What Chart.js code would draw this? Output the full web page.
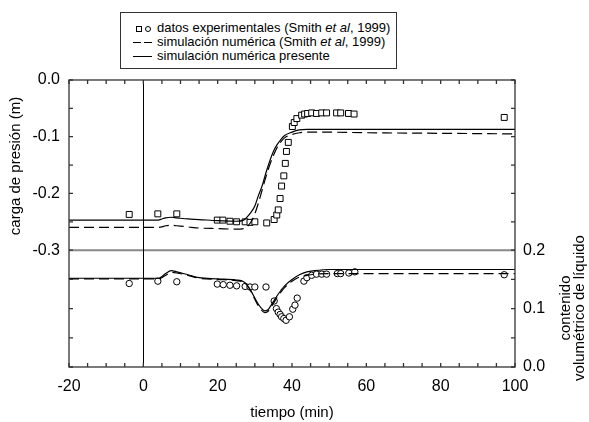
<!DOCTYPE html>
<html>
<head>
<meta charset="utf-8">
<script src="https://cdn.jsdelivr.net/npm/chart.js@4"></script>
<style>
  body { margin: 0; background: #fff; }
  #caja { position: relative; width: 589px; height: 422px; }
  #leyenda {
    position: absolute; left: 120px; top: 12px; width: 275px; height: 55px;
    border: 1px solid #333; background: #fff;
    font: 13px "Liberation Sans", Arial, sans-serif; color: #000;
  }
  #leyenda .fila { position: absolute; left: 36px; line-height: 14px; white-space: nowrap; }
  #leyenda .sim { position: absolute; }
</style>
</head>
<body>
<div id="caja">
  <canvas id="grafico" width="589" height="422"></canvas>
  <div id="leyenda">
    <span class="sim" style="left:15px;top:13px;width:4px;height:4px;border:1px solid #000;"></span>
    <span class="sim" style="left:24px;top:13px;width:4px;height:4px;border:1px solid #000;border-radius:50%;"></span>
    <div class="fila" style="top:8px;">datos experimentales (Smith <i>et al</i>, 1999)</div>
    <span class="sim" style="left:12px;top:29px;width:8px;border-top:1px solid #000;"></span>
    <span class="sim" style="left:23px;top:29px;width:8px;border-top:1px solid #000;"></span>
    <div class="fila" style="top:22px;">simulación numérica (Smith <i>et al</i>, 1999)</div>
    <span class="sim" style="left:12px;top:43px;width:19px;border-top:1px solid #000;"></span>
    <div class="fila" style="top:36px;">simulación numérica presente</div>
  </div>
</div>
<script>
// tiempo (min) de las curvas simuladas
var tCurva = [-20, 0, 4, 5, 6, 7.5, 9, 12, 15, 20, 25, 27, 28, 29, 30, 31, 32, 32.7, 33.5, 34, 35, 36, 37, 38, 40, 42, 44, 46, 50, 60, 80, 100];
// carga de presión (m)
var presionPresente = [-0.247, -0.247, -0.247, -0.245, -0.243, -0.242, -0.243, -0.245, -0.246, -0.248, -0.249, -0.247, -0.241, -0.233, -0.222, -0.203, -0.186, -0.170, -0.153, -0.143, -0.126, -0.114, -0.105, -0.098, -0.092, -0.088, -0.087, -0.087, -0.087, -0.087, -0.087, -0.087];
var presionSmith = [-0.260, -0.260, -0.260, -0.259, -0.257, -0.256, -0.257, -0.259, -0.261, -0.262, -0.263, -0.262, -0.258, -0.250, -0.236, -0.216, -0.193, -0.177, -0.160, -0.150, -0.133, -0.119, -0.109, -0.102, -0.096, -0.093, -0.092, -0.092, -0.092, -0.093, -0.094, -0.095];
// contenido volumétrico de líquido
var humedadPresente = [0.152, 0.152, 0.152, 0.155, 0.160, 0.165, 0.163, 0.158, 0.153, 0.151, 0.149, 0.146, 0.140, 0.130, 0.118, 0.107, 0.099, 0.096, 0.098, 0.102, 0.112, 0.122, 0.131, 0.139, 0.150, 0.158, 0.163, 0.165, 0.167, 0.167, 0.167, 0.167];
var humedadSmith = [0.151, 0.151, 0.151, 0.153, 0.157, 0.162, 0.161, 0.157, 0.152, 0.150, 0.148, 0.145, 0.139, 0.129, 0.116, 0.104, 0.096, 0.093, 0.095, 0.099, 0.109, 0.119, 0.128, 0.136, 0.147, 0.154, 0.157, 0.159, 0.160, 0.160, 0.160, 0.160];

// datos experimentales: carga de presión (cuadrados)
var tCuadrados = [-3.8, 3.9, 9.0, 19.9, 21.4, 23.3, 25.1, 27.4, 28.7, 30.0, 33.2, 35.2, 35.9, 36.3, 36.8, 37.2, 37.8, 38.2, 38.5, 39.0, 40.1, 40.6, 41.3, 42.6, 43.4, 44.2, 45.3, 46.6, 48.0, 49.3, 52.0, 53.1, 55.2, 56.7, 97.1];
var presionExp = [-0.237, -0.236, -0.236, -0.247, -0.247, -0.249, -0.250, -0.250, -0.251, -0.250, -0.252, -0.246, -0.238, -0.229, -0.209, -0.187, -0.169, -0.147, -0.126, -0.110, -0.082, -0.075, -0.068, -0.062, -0.060, -0.059, -0.058, -0.059, -0.058, -0.058, -0.058, -0.058, -0.059, -0.060, -0.066];
// datos experimentales: contenido de líquido (círculos)
var tCirculos = [-3.8, 3.9, 9.0, 19.9, 21.5, 23.3, 25.1, 27.4, 28.7, 30.0, 33.0, 35.2, 35.8, 36.3, 36.8, 37.2, 37.8, 38.4, 39.3, 40.2, 40.8, 41.4, 43.2, 44.0, 45.3, 46.6, 48.0, 49.3, 52.2, 53.1, 55.3, 56.9, 97.1];
var humedadExp = [0.143, 0.147, 0.146, 0.142, 0.141, 0.140, 0.139, 0.138, 0.137, 0.137, 0.137, 0.113, 0.100, 0.094, 0.090, 0.086, 0.083, 0.080, 0.086, 0.099, 0.106, 0.118, 0.147, 0.153, 0.157, 0.159, 0.159, 0.159, 0.160, 0.160, 0.161, 0.163, 0.158];

var ticksPresion = [0, -0.1, -0.2, -0.3];
var ticksHumedad = [0, 0.1, 0.2];
var fuente = '"Liberation Sans", Arial, sans-serif';

function pares(xs, ys) {
    return xs.map(function (x, i) { return { x: x, y: ys[i] }; });
}

function linea(datos, eje, guiones) {
    return {
        type: 'line', data: datos, yAxisID: eje,
        borderColor: '#000', borderWidth: 1.2, borderDash: guiones,
        pointRadius: 0, fill: false, cubicInterpolationMode: 'monotone'
    };
}

function puntos(datos, eje, estilo, radio) {
    return {
        type: 'scatter', data: datos, yAxisID: eje,
        pointStyle: estilo, pointRadius: radio, pointBorderWidth: 1,
        borderColor: '#000', backgroundColor: '#fff', showLine: false
    };
}

// marco, marcas interiores, líneas de referencia y títulos de ejes
var marco = {
    id: 'marco',
    beforeDatasetsDraw: function (chart) {
        var c = chart.ctx, a = chart.chartArea;
        var sx = chart.scales.x, sy = chart.scales.y;
        c.save();
        c.strokeStyle = '#888';
        c.lineWidth = 2;
        var y3 = sy.getPixelForValue(-0.3);
        c.beginPath(); c.moveTo(a.left, y3); c.lineTo(a.right, y3); c.stroke();
        c.strokeStyle = '#000';
        c.lineWidth = 1;
        var x0 = Math.round(sx.getPixelForValue(0)) + 0.5;
        c.beginPath(); c.moveTo(x0, a.top); c.lineTo(x0, a.bottom); c.stroke();
        c.restore();
    },
    afterDatasetsDraw: function (chart) {
        var c = chart.ctx, a = chart.chartArea;
        var sx = chart.scales.x, sy = chart.scales.y, sy1 = chart.scales.y1;
        var L = 4, v, p;
        c.save();
        c.strokeStyle = '#333';
        c.lineWidth = 1.3;
        c.strokeRect(a.left, a.top, a.right - a.left, a.bottom - a.top);
        c.beginPath();
        for (v = -20; v <= 100; v += 5) {
            p = sx.getPixelForValue(v);
            c.moveTo(p, a.bottom); c.lineTo(p, a.bottom - L);
            c.moveTo(p, a.top); c.lineTo(p, a.top + L);
        }
        for (v = 0; v >= -0.3001; v -= 0.05) {
            p = sy.getPixelForValue(v);
            c.moveTo(a.left, p); c.lineTo(a.left + L, p);
            c.moveTo(a.right, p); c.lineTo(a.right - L, p);
        }
        for (v = 0; v <= 0.2001; v += 0.05) {
            p = sy1.getPixelForValue(v);
            c.moveTo(a.left, p); c.lineTo(a.left + L, p);
            c.moveTo(a.right, p); c.lineTo(a.right - L, p);
        }
        c.stroke();

        c.fillStyle = '#000';
        c.font = '15px ' + fuente;
        c.textAlign = 'center';
        c.textBaseline = 'middle';
        c.fillText('tiempo (min)', (a.left + a.right) / 2, 413);
        c.save();
        c.translate(16, 166);
        c.rotate(-Math.PI / 2);
        c.fillText('carga de presión (m)', 0, 0);
        c.restore();
        c.save();
        c.translate(566, 308);
        c.rotate(-Math.PI / 2);
        c.fillText('contenido', 0, 0);
        c.fillText('volumétrico de líquido', 0, 14);
        c.restore();
        c.restore();
    }
};

var ctx = document.getElementById('grafico').getContext('2d');

new Chart(ctx, {
    data: {
        datasets: [
            linea(pares(tCurva, presionSmith), 'y', [10, 5]),
            linea(pares(tCurva, presionPresente), 'y', []),
            linea(pares(tCurva, humedadSmith), 'y1', [10, 5]),
            linea(pares(tCurva, humedadPresente), 'y1', []),
            puntos(pares(tCuadrados, presionExp), 'y', 'rect', 4.2),
            puntos(pares(tCirculos, humedadExp), 'y1', 'circle', 3.2)
        ]
    },
    options: {
        responsive: false,
        animation: false,
        layout: { padding: { top: 80 } },
        plugins: { legend: { display: false }, tooltip: { enabled: false } },
        scales: {
            x: {
                type: 'linear', min: -20, max: 100,
                grid: { display: false, drawTicks: false }, border: { display: false },
                ticks: { stepSize: 20, padding: 10, color: '#000', font: { size: 16, family: fuente } },
                afterFit: function (s) { s.height = 55; }
            },
            y: {
                type: 'linear', position: 'left', min: -0.506, max: 0,
                grid: { display: false, drawTicks: false }, border: { display: false },
                afterBuildTicks: function (s) { s.ticks = ticksPresion.map(function (v) { return { value: v }; }); },
                ticks: {
                    padding: 9, color: '#000', font: { size: 16, family: fuente },
                    callback: function (v) { return v.toFixed(1); }
                },
                afterFit: function (s) { s.width = 69; }
            },
            y1: {
                type: 'linear', position: 'right', min: 0, max: 0.4915,
                grid: { display: false, drawTicks: false }, border: { display: false },
                afterBuildTicks: function (s) { s.ticks = ticksHumedad.map(function (v) { return { value: v }; }); },
                ticks: {
                    padding: 8, color: '#000', font: { size: 16, family: fuente },
                    callback: function (v) { return v.toFixed(1); }
                },
                afterFit: function (s) { s.width = 74; }
            }
        }
    },
    plugins: [marco]
});
</script>
</body>
</html>
